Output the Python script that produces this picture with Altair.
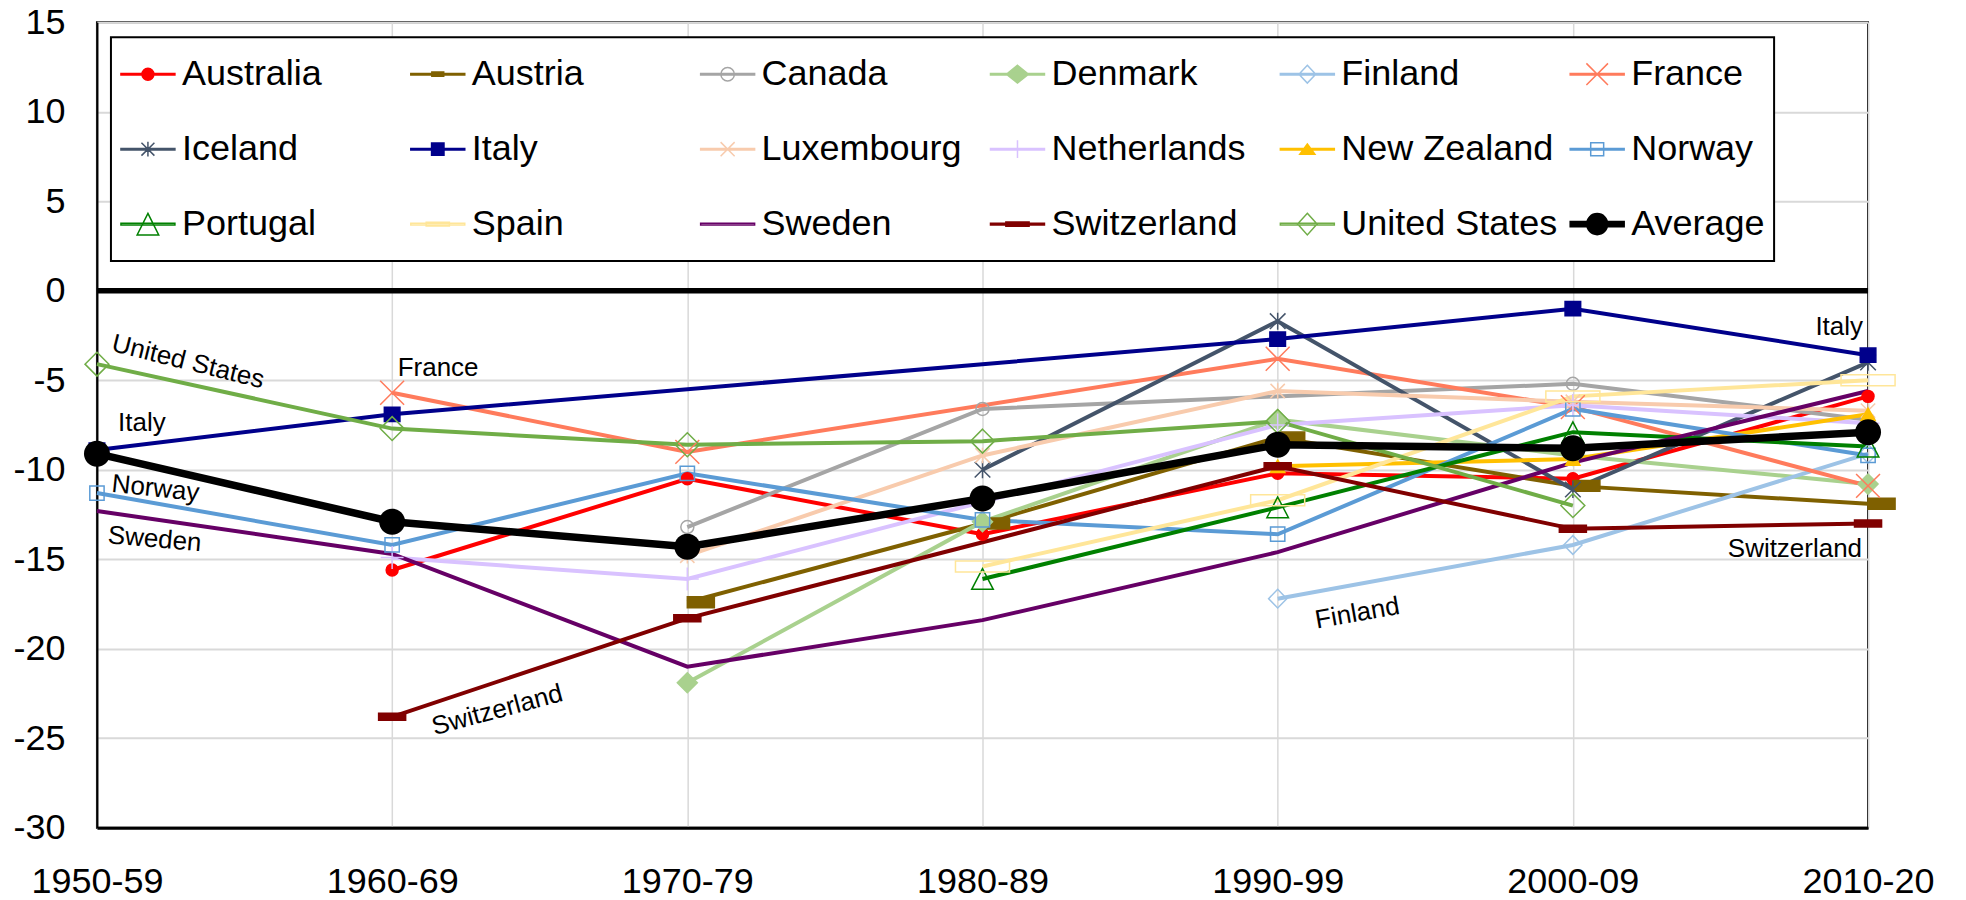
import altair as alt
import pandas as pd

periods = ["1950-59", "1960-69", "1970-79", "1980-89", "1990-99", "2000-09", "2010-20"]

countries = ["Australia", "Austria", "Canada", "Denmark", "Finland", "France",
             "Iceland", "Italy", "Luxembourg", "Netherlands", "New Zealand", "Norway",
             "Portugal", "Spain", "Sweden", "Switzerland", "United States", "Average"]

australia = [None, -15.6, -10.5, -13.6, -10.2, -10.5, -5.9]
austria = [None, None, -17.4, -13.0, -8.2, -10.9, -11.9]
canada = [None, None, -13.2, -6.6, None, -5.2, -7.2]
denmark = [None, None, -21.9, -12.9, -7.2, -9.2, -10.8]
finland = [None, None, None, None, -17.2, -14.2, -9.1]
france = [None, -5.7, -9.0, None, -3.8, -6.5, -10.9]
iceland = [None, None, None, -10.0, -1.7, -11.1, -4.0]
italy = [-8.9, -6.9, None, None, -2.7, -1.0, -3.6]
luxembourg = [None, None, -14.8, -9.2, -5.6, -6.2, -6.7]
netherlands = [None, -14.9, -16.1, -11.8, -7.5, -6.4, -7.4]
new_zealand = [None, None, None, None, -9.8, -9.4, -6.9]
norway = [-11.3, -14.2, -10.2, -12.8, -13.6, -6.6, -9.2]
portugal = [None, None, None, -16.1, -12.1, -7.9, -8.7]
spain = [None, None, None, -15.4, -11.7, -5.9, -5.0]
sweden = [-12.3, -14.7, -21.0, -18.4, -14.6, -9.6, -5.6]
switzerland = [None, -23.8, -18.3, None, -9.8, -13.3, -13.0]
united_states = [-4.1, -7.7, -8.6, -8.4, -7.3, -12.0, None]
average = [-9.1, -12.9, -14.3, -11.6, -8.6, -8.8, -7.9]

series = [australia, austria, canada, denmark, finland, france, iceland, italy,
          luxembourg, netherlands, new_zealand, norway, portugal, spain, sweden,
          switzerland, united_states, average]

# annotation labels: text, anchor period, anchor value, dx, angle, align
annotations = [
    ("United States", "1950-59", -2.7, 94, 14, "center"),
    ("Italy", "1950-59", -7.4, 45, 0, "center"),
    ("Norway", "1950-59", -10.7, 59, 6, "center"),
    ("Sweden", "1950-59", -13.6, 58, 5, "center"),
    ("France", "1960-69", -4.3, 46, 0, "center"),
    ("Switzerland", "1960-69", -25.0, 109, 345, "center"),
    ("Finland", "1990-99", -18.8, 81, 350, "center"),
    ("Italy", "2010-20", -2.0, -5, 0, "right"),
    ("Switzerland", "2010-20", -14.4, -6, 0, "right"),
]

# ---------- styles ----------
colors = ["#FF0000", "#7F6000", "#A5A5A5", "#A9D18E", "#9DC3E6", "#FF7B5C",
          "#44546A", "#00008B", "#F8CBAD", "#D9C2FF", "#FFC000", "#5B9BD5",
          "#008000", "#FFE699", "#660066", "#800000", "#70AD47", "#000000"]
color_of = dict(zip(countries, colors))


def circ(r):
    return f"M{-r},0A{r},{r},0,1,1,{r},0A{r},{r},0,1,1,{-r},0Z"


def rect(x0, x1, h):
    return f"M{x0},{-h}H{x1}V{h}H{x0}Z"


def diamond(w, h):
    return f"M0,{-h}L{w},0L0,{h}L{-w},0Z"


def xmark(r):
    return f"M{-r},{-r}L{r},{r}M{-r},{r}L{r},{-r}"


def plus(r):
    return f"M{-r},0H{r}M0,{-r}V{r}"


def star(r, v):
    return xmark(r) + f"M0,{-v}V{v}"


def tri(w, h):
    return f"M0,{-h}L{w},{h}L{-w},{h}Z"


# chart markers (unit = 13 px)
chart_marker = {
    "Australia": circ(0.46), "Austria": rect(0, 2.08, 0.42), "Canada": circ(0.5),
    "Denmark": diamond(0.77, 0.77), "Finland": diamond(0.7, 0.72), "France": xmark(0.92),
    "Iceland": star(0.6, 0.65), "Italy": rect(-0.6, 0.6, 0.55), "Luxembourg": star(0.55, 0.6),
    "Netherlands": plus(0.88), "New Zealand": tri(0.55, 0.48), "Norway": rect(-0.55, 0.55, 0.55),
    "Portugal": tri(0.83, 0.8), "Spain": rect(-2.08, 2.08, 0.42), "Sweden": "M0,0",
    "Switzerland": rect(-1.04, 1.04, 0.27), "United States": diamond(0.92, 0.92),
    "Average": circ(1.0),
}
filled_set = {"Australia", "Austria", "Denmark", "Italy", "New Zealand", "Switzerland", "Average"}
chart_fill = {c: (col if c in filled_set else "transparent") for c, col in zip(countries, colors)}

# legend symbols (unit = 27 px), include the line segment
LN = "M-1,-0.028H1V0.028H-1Z"
legend_shape = {
    "Australia": LN + circ(0.22), "Austria": LN + rect(-0.22, 0.22, 0.08),
    "Canada": LN + circ(0.25), "Denmark": LN + diamond(0.41, 0.33),
    "Finland": LN + diamond(0.31, 0.33), "France": LN + xmark(0.4),
    "Iceland": LN + star(0.24, 0.27), "Italy": LN + rect(-0.23, 0.23, 0.23),
    "Luxembourg": LN + xmark(0.26), "Netherlands": LN + plus(0.33),
    "New Zealand": LN + tri(0.28, 0.19), "Norway": LN + rect(-0.24, 0.24, 0.24),
    "Portugal": LN + tri(0.4, 0.4), "Spain": LN + rect(-0.43, 0.43, 0.07),
    "Sweden": LN, "Switzerland": LN + rect(-0.43, 0.43, 0.08),
    "United States": LN + diamond(0.36, 0.4), "Average": rect(-1, 1, 0.1) + circ(0.39),
}

FONT = "Liberation Sans"

# ---------- data ----------
rows = []
for c, vals in zip(countries, series):
    for p, v in zip(periods, vals):
        if v is not None:
            rows.append({"country": c, "period": p, "value": v})
df = pd.DataFrame(rows)
df["mk"] = df["country"].map(chart_marker)
df["fillc"] = df["country"].map(chart_fill)
df["col"] = df["country"].map(color_of)

cdf = df[df["country"] != "Average"]
pdf = cdf[cdf["country"] != "Sweden"]
adf = df[df["country"] == "Average"]

x_enc = alt.X("period:N", scale=alt.Scale(domain=periods, padding=0),
              axis=alt.Axis(title=None, labelFontSize=36, labelFont=FONT, labelColor="black",
                            labelPadding=37, ticks=False, grid=True, gridColor="#D9D9D9",
                            gridWidth=1.5, domainColor="black", domainWidth=3,
                            labelAngle=0, labelOverlap=False))
y_enc = alt.Y("value:Q", scale=alt.Scale(domain=[-30, 15], nice=False, zero=False),
              axis=alt.Axis(title=None, values=list(range(-30, 16, 5)),
                            labelExpr="'' + datum.value", labelFontSize=36, labelFont=FONT,
                            labelColor="black", labelPadding=32, ticks=False,
                            gridColor="#D9D9D9", gridWidth=2, domainColor="black",
                            domainWidth=2))

zero = alt.Chart(pd.DataFrame({"value": [0]})).mark_rule(
    color="black", strokeWidth=5.5).encode(y=y_enc)

lines = alt.Chart(cdf).mark_line(strokeWidth=4).encode(
    x=x_enc, y=y_enc,
    detail="country:N",
    stroke=alt.Stroke("col:N", scale=None))

points = alt.Chart(pdf).mark_point(size=676, strokeWidth=1.5, opacity=1).encode(
    x=x_enc, y=y_enc,
    stroke=alt.Stroke("col:N", scale=None),
    fill=alt.Fill("fillc:N", scale=None),
    shape=alt.Shape("mk:N", scale=None))

avg_line = alt.Chart(adf).mark_line(strokeWidth=7.5, color="black").encode(x=x_enc, y=y_enc)
avg_pts = alt.Chart(adf).mark_point(size=676, filled=True, color="black", opacity=1,
                                     shape=chart_marker["Average"]).encode(x=x_enc, y=y_enc)

texts = []
for label, per, val, dx, ang, al in annotations:
    texts.append(
        alt.Chart(pd.DataFrame([{"period": per, "value": val, "label": label}]))
        .mark_text(dx=dx, angle=ang, align=al, baseline="middle", fontSize=26,
                   font=FONT, color="black")
        .encode(x=x_enc, y=y_enc, text="label:N"))

LEG = alt.Legend(title=" ", titleOrient="bottom", titleFontSize=10, titlePadding=0,
                 orient="none", legendX=14, legendY=15, columns=6,
                 direction="horizontal",
                 gridAlign="all", symbolSize=2916, symbolStrokeWidth=1.5,
                 symbolOpacity=1, symbolFillColor="transparent",
                 labelFontSize=36, labelFont=FONT, labelColor="black", labelOffset=6,
                 labelLimit=600, columnPadding=9, rowPadding=29, padding=9,
                 strokeColor="black", fillColor="white")

legend_layer = alt.Chart(df).transform_filter("false").mark_point(
    size=2916, strokeWidth=1.5, opacity=1).encode(
    stroke=alt.Stroke("country:N", scale=alt.Scale(domain=countries, range=colors),
                      legend=LEG),
    fill=alt.Fill("country:N", scale=alt.Scale(domain=countries,
                                               range=[chart_fill[c] for c in countries]),
                  legend=LEG),
    shape=alt.Shape("country:N", scale=alt.Scale(domain=countries,
                                                 range=[legend_shape[c] for c in countries]),
                    legend=LEG))

chart = alt.layer(zero, lines, points, avg_line, avg_pts, *texts, legend_layer).properties(
    width=1772, height=806,
    autosize=alt.AutoSizeParams(type="none"),
    padding={"left": 89, "top": 14, "right": 90, "bottom": 80},
    background="white",
).configure_view(stroke="black", strokeWidth=2).configure_legend(strokeWidth=2)

chart.save("out.html", embed_options={"renderer": "svg", "actions": False})
